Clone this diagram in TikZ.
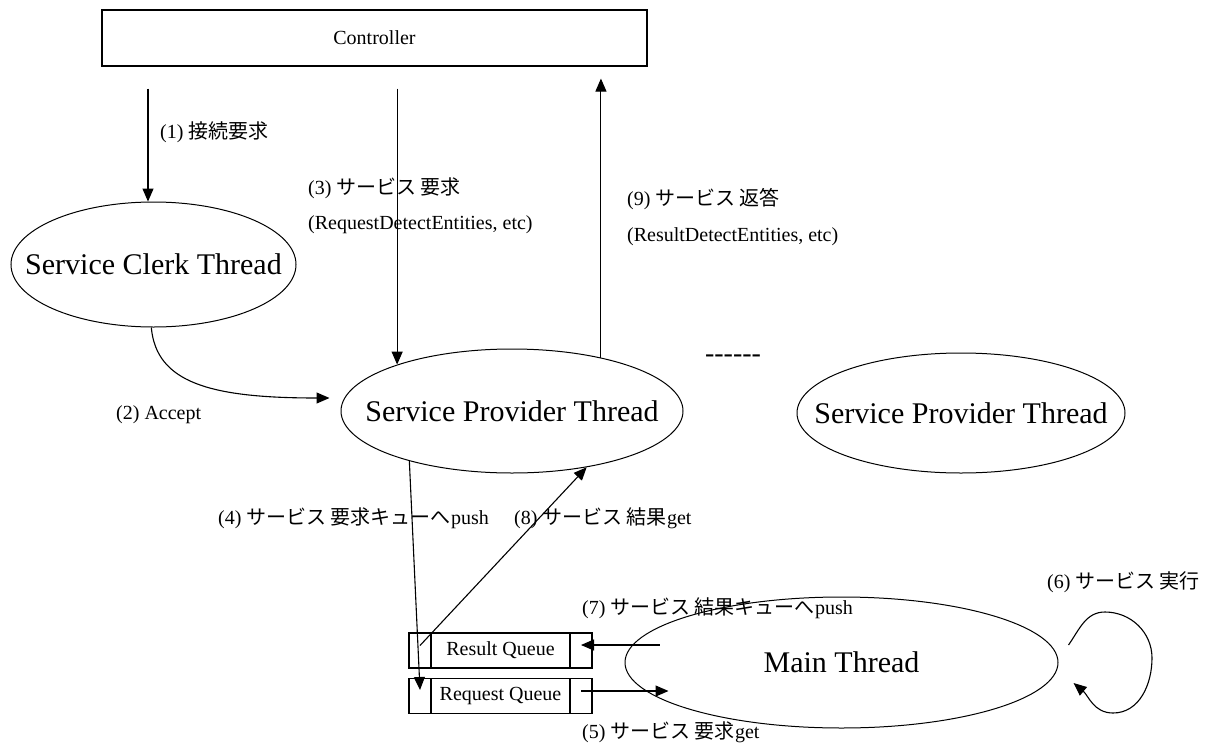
\documentclass[tikz,border=0pt]{standalone}
\usepackage{fontspec}
\setmainfont{Liberation Serif}
\newfontfamily\jpfont{Noto Sans CJK JP}
\usetikzlibrary{arrows.meta,positioning,shapes.geometric}
\newcommand{\ja}[1]{{\jpfont #1}}

\begin{document}
\begin{tikzpicture}[
  x=1pt, y=1pt,
  font=\fontsize{20}{24}\selectfont,
  tname/.style={font=\fontsize{30}{36}\selectfont, inner sep=0pt},
  threadnode/.style={draw, ellipse, line width=1pt, inner sep=0pt, label={[tname]center:#1}},
  qcell/.style={draw, line width=1.1pt, inner sep=0pt, outer sep=0pt, minimum height=35pt},
  lbl/.style={anchor=west, inner sep=0pt},
  flow/.style={-{Triangle[length=13pt,width=11pt]}, line width=1.1pt}
]
\useasboundingbox (0,0) rectangle (1207,-744);
% controller and the threads
\node[draw, line width=1.1pt, minimum width=545pt, minimum height=56pt] (ctrl) at (374.5,-38) {Controller};
\node[threadnode=Service Clerk Thread, minimum width=285pt, minimum height=125pt] (clerk) at (153.5,-264.5) {};
\node[threadnode=Service Provider Thread, minimum width=342pt, minimum height=124pt] (spt) at (512,-411) {};
\node[threadnode=Service Provider Thread, minimum width=328pt, minimum height=120pt] (spt2) at (961,-413) {};
\node[font=\fontsize{28}{30}\selectfont, inner sep=0pt] (dots) at (733,-359) {{-}{-}{-}{-}{-}{-}};
\node[threadnode=Main Thread, minimum width=433pt, minimum height=131pt] (main) at (841.5,-662.5) {};
% queues
\node[qcell, minimum width=139pt] (res) at (500.5,-650.5) {Result Queue};
\node[qcell, minimum width=22pt, left=0pt of res] (resL) {};
\node[qcell, minimum width=22pt, right=0pt of res] (resR) {};
\node[qcell, minimum width=139pt] (req) at (500.5,-696) {Request Queue};
\node[qcell, minimum width=22pt, left=0pt of req] (reqL) {};
\node[qcell, minimum width=22pt, right=0pt of req] (reqR) {};
% labels
\node[lbl] (l1) at (160,-132) {(1) \ja{接続要求}};
\node[lbl] (l3) at (308,-188) {(3) \ja{サービス 要求}};
\node[lbl] (l3b) at (308,-225) {(RequestDetectEntities, etc)};
\node[lbl] (l9) at (627,-199) {(9) \ja{サービス 返答}};
\node[lbl] (l9b) at (627,-237) {(ResultDetectEntities, etc)};
\node[lbl] (l2) at (116,-415) {(2) Accept};
\node[lbl] (l4) at (218,-518) {(4) \ja{サービス 要求キューへ}push};
\node[lbl] (l8) at (514,-518) {(8) \ja{サービス 結果}get};
\node[lbl] (l7) at (582,-608) {(7) \ja{サービス 結果キューへ}push};
\node[lbl] (l5) at (582,-732) {(5) \ja{サービス 要求}get};
\node[lbl] (l6) at (1047,-582) {(6) \ja{サービス 実行}};
% free ends
\coordinate (m7) at ([xshift=35pt,yshift=17.5pt]main.west);
\coordinate (m5) at ([xshift=44pt,yshift=-28.5pt]main.west);
\coordinate (loopa) at ([xshift=10pt,yshift=17.5pt]main.east);
\coordinate (loopb) at ([xshift=15pt,yshift=-20.5pt]main.east);
% connectors
\draw[flow] ([yshift=-22pt]ctrl.south -| clerk.95) -- (clerk.95);
\draw[flow] ([yshift=-22pt]ctrl.south -| spt.158) -- (spt.158);
\draw[flow] (spt.31) -- ([yshift=-12pt]ctrl.south -| spt.31);
\draw[flow] (clerk.268) .. controls +(5,-55) and +(-120,0) .. ([xshift=-11pt,yshift=13pt]spt.west);
\draw[flow] (spt.206) -- ([yshift=6pt]reqL.center);
\draw[flow] ([yshift=5pt]resL.center) -- (spt.323);
\draw[flow] (m7) -- (m7 -| resR.center);
\draw[flow] (reqR.center |- m5) -- (m5);
\draw[flow] (loopa) to[out=55,in=180] (1105,-612) to[out=0,in=90] (1152,-658)
  to[out=-90,in=0] (1113,-713) to[out=180,in=-40] (loopb);
\end{tikzpicture}
\end{document}
